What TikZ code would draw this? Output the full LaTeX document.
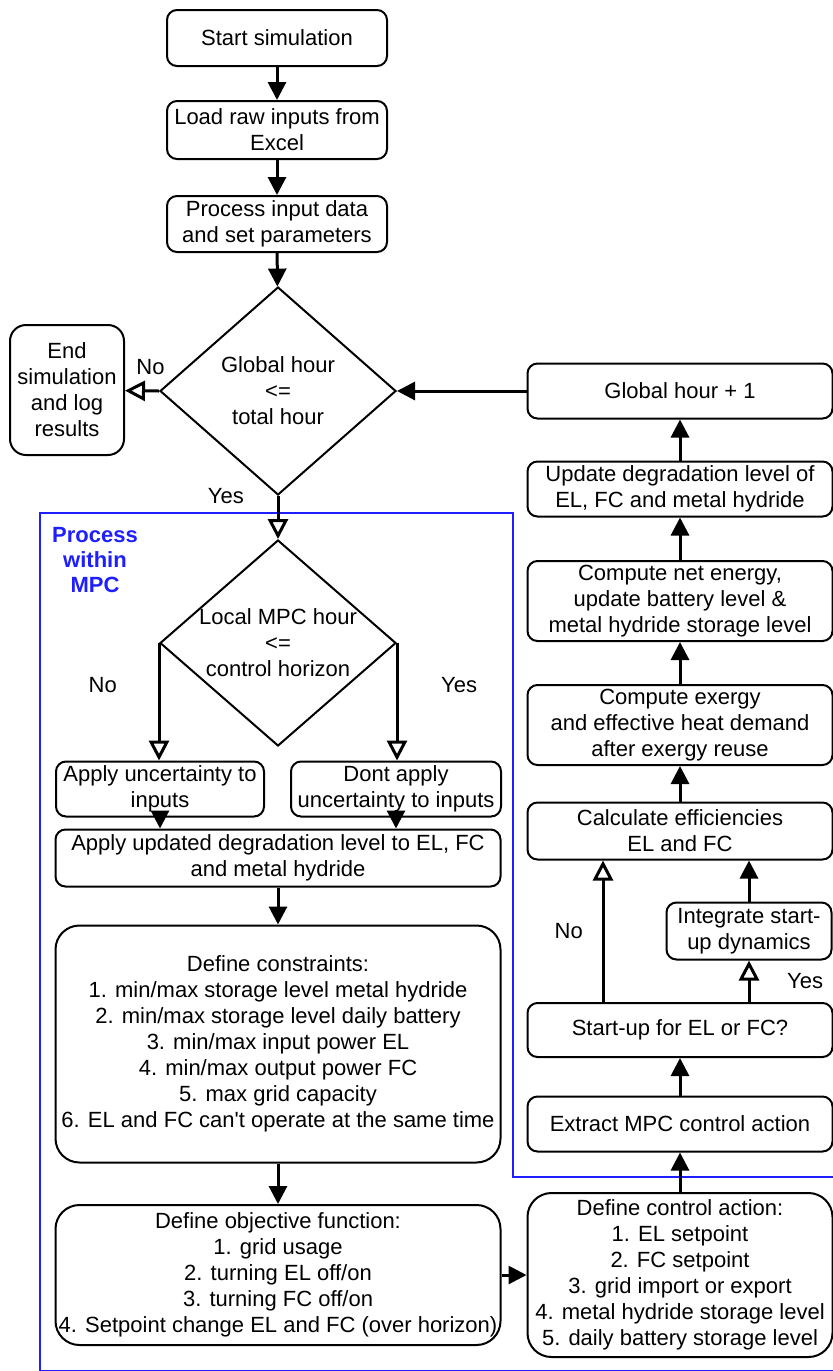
\documentclass[tikz,border=0pt]{standalone}
\usepackage{fontspec}
\setmainfont{Liberation Sans}
\usetikzlibrary{positioning,arrows.meta,shapes.geometric}
\definecolor{mpcblue}{RGB}{30,30,255}

\begin{document}
\begin{tikzpicture}[x=0.5pt,y=-0.5pt,font=\fontsize{11}{13}\selectfont,
  box/.style={draw,line width=1pt,rounded corners=5pt,align=center,inner sep=0pt},
  bigbox/.style={box,rounded corners=12pt},
  decision/.style={draw,diamond,line width=1pt,align=center,inner sep=0pt,minimum width=118pt,minimum height=104pt},
  arr/.style={line width=1.5pt,-{Triangle[length=9pt,width=9pt]}},
  oarr/.style={line width=1.5pt,-{Triangle[open,length=10pt,width=10pt]}}]
\useasboundingbox (0,0) rectangle (833,1371);
% MPC frame
\draw[mpcblue,line width=1pt] (833,1177) -- (513,1177) -- (513,513) -- (40,513) -- (40,1371) -- (833,1371);
\node[text=mpcblue,font=\fontsize{11}{12.5}\selectfont\bfseries,align=center] (mpclbl) at (95,560) {Process\\within\\MPC};
% main column
\node[box,minimum width=110pt,minimum height=28pt] (start) at (277,38) {Start simulation};
\node[box,minimum width=110pt,minimum height=29pt] (load) at (277,130) {Load raw inputs from\\Excel};
\node[box,minimum width=110pt,minimum height=28pt] (proc) at (277,224) {Process input data\\and set parameters};
\node[decision] (gcheck) at (278,391) {Global hour\\<=\\total hour};
\node[box,rounded corners=8pt,minimum width=57pt,minimum height=65pt] (endsim) at (67,390) {End\\simulation\\and log\\results};
% right column
\node[box,minimum width=152.5pt,minimum height=27.5pt] (ghour) at (680,391) {Global hour + 1};
\node[box,minimum width=152.5pt,minimum height=27.5pt] (updeg) at (680,489) {Update degradation level of\\EL, FC and metal hydride};
\node[box,minimum width=152.5pt,minimum height=40pt] (netE) at (680,601) {Compute net energy,\\update battery level \&\\metal hydride storage level};
\node[box,minimum width=152.5pt,minimum height=40pt] (exergy) at (680,725) {Compute exergy\\and effective heat demand\\after exergy reuse};
\node[box,minimum width=152.5pt,minimum height=28.5pt] (eff) at (680,831) {Calculate efficiencies\\EL and FC};
\node[box,minimum width=82.5pt,minimum height=28.5pt] (integ) at (749,931) {Integrate start-\\up dynamics};
\node[box,minimum width=152.5pt,minimum height=27pt] (startup) at (680,1030) {Start-up for EL or FC?};
\node[box,minimum width=152.5pt,minimum height=27.5pt] (extract) at (680,1124) {Extract MPC control action};
\node[bigbox,minimum width=152.5pt,minimum height=82pt] (ctrl) at (680,1275) {Define control action:\\1. EL setpoint\\2. FC setpoint\\3. grid import or export\\4. metal hydride storage level\\5. daily battery storage level};
% inside MPC
\node[decision,minimum height=103pt] (lcheck) at (278,643) {\makebox[50pt]{Local MPC hour}\\<=\\\makebox[50pt]{control horizon}};
\node[box,minimum width=104pt,minimum height=27.5pt] (unc) at (160,789) {Apply uncertainty to\\inputs};
\node[box,minimum width=105pt,minimum height=27.5pt] (nounc) at (396,789) {Dont apply\\uncertainty to inputs};
\node[box,minimum width=222.5pt,minimum height=28.5pt] (degr) at (278,858) {Apply updated degradation level to EL, FC\\and metal hydride};
\node[bigbox,minimum width=222.5pt,minimum height=118.5pt] (cons) at (278,1044) {Define constraints:\\1. min/max storage level metal hydride\\2. min/max storage level daily battery\\3. min/max input power EL\\4. min/max output power FC\\5. max grid capacity\\6. EL and FC can\textquotesingle t operate at the same time};
\node[bigbox,minimum width=222.5pt,minimum height=70pt] (obj) at (278,1275) {Define objective function:\\1. grid usage\\2. turning EL off/on\\3. turning FC off/on\\4. Setpoint change EL and FC (over horizon)};
\coordinate (nox) at (603,1030);
% connectors
\draw[arr] (start) -- (load);
\draw[arr] (load) -- (proc);
\draw[arr] (proc) -- (gcheck);
\draw[oarr] (gcheck.west) -- (endsim) node[pos=0.25,above=4pt] {No};
\draw[oarr] (gcheck.south) -- (lcheck.north) node[pos=0,left=13pt] {Yes};
\draw[arr] (ghour) -- (gcheck.east);
\draw[arr] (updeg) -- (ghour);
\draw[arr] (netE) -- (updeg);
\draw[arr] (exergy) -- (netE);
\draw[arr] (eff) -- (exergy);
\draw[arr] (integ) -- (integ |- eff.south);
\draw[oarr] (startup.north -| integ) -- (integ) node[midway,right=15pt] {Yes};
\draw[oarr] (startup.north -| nox) -- (eff.south -| nox) node[midway,left=6pt] {No};
\draw[arr] (extract) -- (startup);
\draw[arr] (ctrl) -- (extract);
\draw[arr] (obj) -- (ctrl);
\draw[arr] (cons) -- (obj);
\draw[arr] (degr) -- (cons);
\draw[arr] (unc) -- (unc |- degr.north);
\draw[arr] (nounc) -- (nounc |- degr.north);
\draw[oarr] (lcheck.west) -- (lcheck.west |- unc.north) node[pos=0.36,left=17pt] {No};
\draw[oarr] (lcheck.east) -- (lcheck.east |- nounc.north) node[pos=0.36,right=18pt] {Yes};
\end{tikzpicture}
\end{document}
